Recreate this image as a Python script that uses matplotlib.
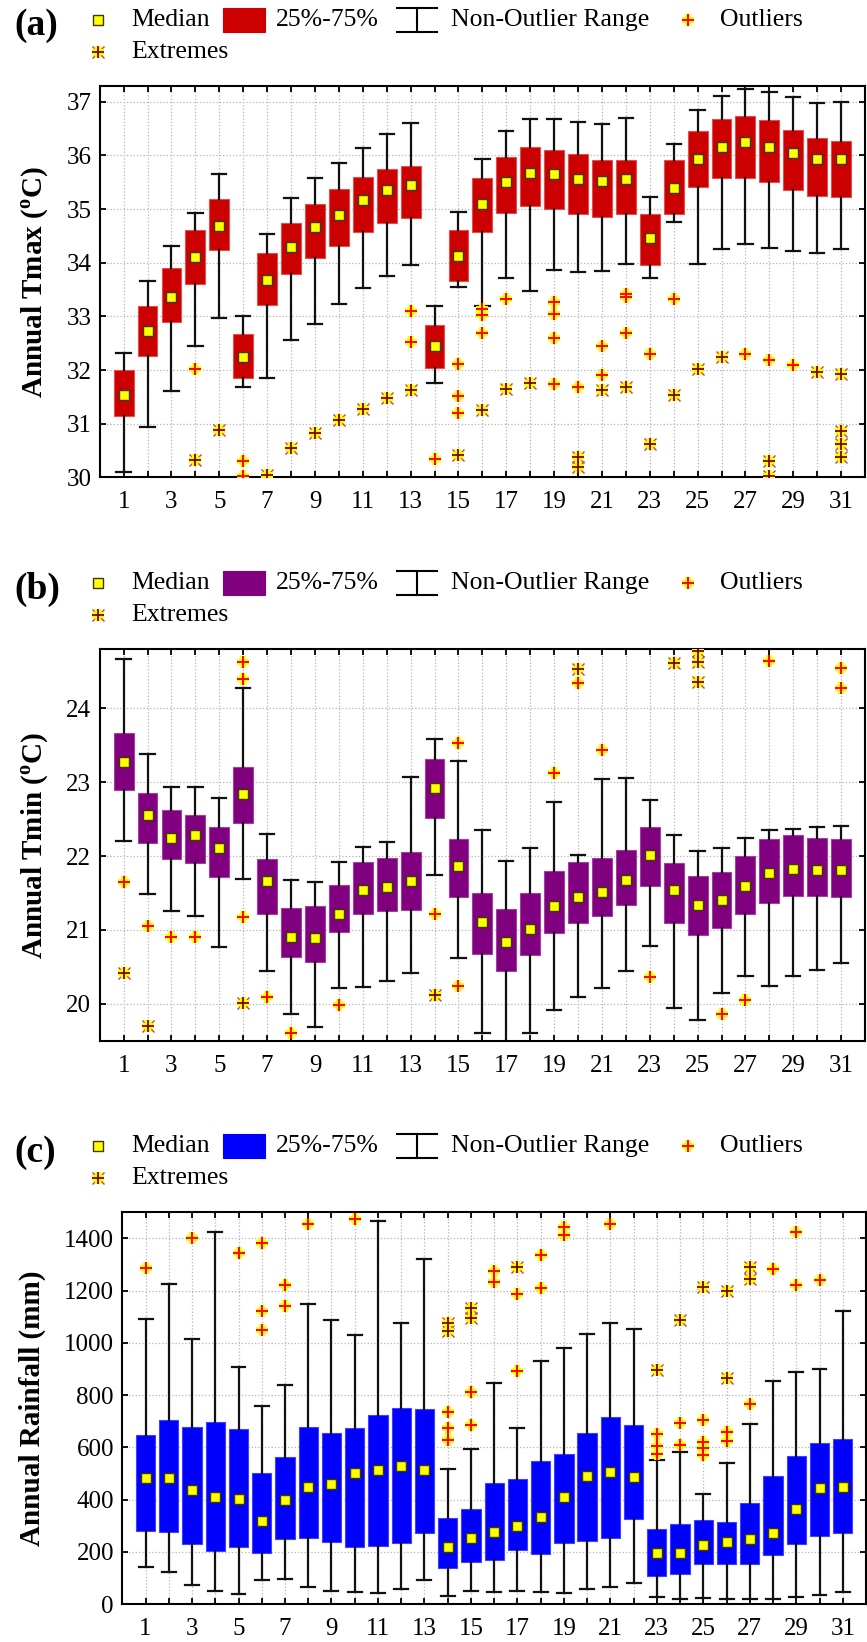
import matplotlib
matplotlib.use("Agg")
import matplotlib.pyplot as plt
from matplotlib.lines import Line2D
from matplotlib.patches import Rectangle
from matplotlib import font_manager

_names = sorted({f.name for f in font_manager.fontManager.ttflist})
_serif = [n for n in ['Liberation Serif', 'Times New Roman', 'Nimbus Roman', 'DejaVu Serif'] if n in _names]
plt.rcParams['font.family'] = 'serif'
plt.rcParams['font.serif'] = _serif + ['DejaVu Serif']
plt.rcParams['mathtext.fontset'] = 'custom'
plt.rcParams['mathtext.rm'] = _serif[0] if _serif else 'DejaVu Serif'
plt.rcParams['mathtext.bf'] = (_serif[0] if _serif else 'DejaVu Serif') + ':bold'

days = list(range(1, 32))
tick_labels = [str(d) if d % 2 == 1 else '' for d in days]

# ---------------- Panel (a) Tmax ----------------
a_lo = [30.09, 30.94, 31.61, 32.44, 32.97, 31.69, 31.85, 32.56, 32.86, 33.23, 33.53, 33.76, 33.96, 31.76, 33.55, 33.20,
        33.71, 33.47, 33.86, 33.83, 33.84, 33.98, 33.72, 34.76, 33.97, 34.26, 34.34, 34.28, 34.21, 34.18, 34.26]
a_q1 = [31.14, 32.26, 32.89, 33.60, 34.24, 31.86, 33.22, 33.79, 34.08, 34.31, 34.57, 34.74, 34.84, 32.04, 33.66, 34.58,
        34.92, 35.06, 35.00, 34.91, 34.86, 34.91, 33.96, 34.91, 35.41, 35.58, 35.58, 35.50, 35.36, 35.24, 35.22]
a_med = [31.53, 32.72, 33.37, 34.10, 34.69, 32.24, 33.68, 34.30, 34.66, 34.89, 35.17, 35.35, 35.45, 32.44, 34.13, 35.09,
         35.51, 35.68, 35.65, 35.57, 35.53, 35.57, 34.47, 35.40, 35.93, 36.16, 36.25, 36.16, 36.05, 35.93, 35.93]
a_q3 = [32.00, 33.20, 33.91, 34.61, 35.19, 32.68, 34.19, 34.74, 35.10, 35.37, 35.60, 35.74, 35.80, 32.84, 34.61, 35.58,
        35.98, 36.16, 36.11, 36.02, 35.92, 35.92, 34.91, 35.92, 36.46, 36.68, 36.74, 36.66, 36.48, 36.33, 36.27]
a_hi = [32.32, 33.65, 34.32, 34.92, 35.65, 33.00, 34.54, 35.20, 35.58, 35.85, 36.14, 36.40, 36.60, 33.19, 34.95, 35.94,
        36.46, 36.68, 36.67, 36.62, 36.58, 36.69, 35.23, 36.22, 36.85, 37.10, 37.23, 37.19, 37.09, 36.97, 36.99]
a_out_day = [4, 6, 6, 13, 13, 14, 15, 15, 15, 16, 16, 16, 17, 19, 19, 19, 19, 20, 21, 21, 22, 22, 22, 23, 24, 27, 28, 29]
a_out_val = [32.01, 30.30, 30.02, 33.10, 32.52, 30.35, 32.12, 31.51, 31.20, 33.13, 33.03, 32.69, 33.33, 33.27, 33.04,
             32.59, 31.74, 31.68, 32.45, 31.90, 33.42, 33.36, 32.69, 32.29, 33.33, 32.29, 32.18, 32.10]
a_ext_day = [4, 5, 7, 8, 9, 10, 11, 12, 13, 15, 16, 17, 18, 20, 20, 21, 22, 23, 24, 25, 26, 28, 28, 30, 31, 31, 31, 31]
a_ext_val = [30.33, 30.88, 30.04, 30.54, 30.83, 31.06, 31.28, 31.48, 31.62, 30.41, 31.25, 31.65, 31.76, 30.37, 30.19,
             31.62, 31.69, 30.63, 31.54, 32.02, 32.24, 30.30, 30.02, 31.96, 31.93, 30.86, 30.63, 30.37]

# ---------------- Panel (b) Tmin ----------------
b_lo = [22.20, 21.48, 21.26, 21.19, 20.77, 21.69, 20.45, 19.86, 19.68, 20.22, 20.23, 20.31, 20.42, 21.75, 20.62, 19.60,
        19.40, 19.60, 19.91, 20.09, 20.21, 20.45, 20.78, 19.94, 19.78, 20.15, 20.38, 20.24, 20.38, 20.46, 20.55]
b_q1 = [22.89, 22.18, 21.96, 21.91, 21.71, 22.45, 21.22, 20.63, 20.57, 20.97, 21.21, 21.25, 21.27, 22.51, 21.44, 20.67,
        20.45, 20.66, 20.96, 21.10, 21.19, 21.34, 21.60, 21.10, 20.93, 21.02, 21.22, 21.37, 21.46, 21.46, 21.44]
b_med = [23.27, 22.56, 22.25, 22.29, 22.11, 22.84, 21.66, 20.91, 20.89, 21.22, 21.54, 21.58, 21.66, 22.92, 21.86, 21.11,
         20.83, 21.01, 21.32, 21.44, 21.52, 21.68, 22.01, 21.54, 21.34, 21.40, 21.60, 21.77, 21.83, 21.81, 21.81]
b_q3 = [23.67, 22.86, 22.62, 22.55, 22.39, 23.20, 21.96, 21.30, 21.33, 21.61, 21.92, 21.97, 22.05, 23.31, 22.23, 21.50,
        21.29, 21.50, 21.80, 21.92, 21.97, 22.08, 22.40, 21.90, 21.73, 21.79, 22.00, 22.23, 22.28, 22.24, 22.23]
b_hi = [24.67, 23.38, 22.94, 22.93, 22.79, 24.27, 22.30, 21.67, 21.65, 21.92, 22.12, 22.19, 23.07, 23.59, 23.29, 22.35,
        21.93, 22.11, 22.73, 22.02, 23.04, 23.06, 22.76, 22.28, 22.07, 22.11, 22.25, 22.35, 22.36, 22.40, 22.41]
b_out_day = [1, 2, 3, 4, 6, 6, 6, 7, 8, 10, 14, 15, 15, 19, 20, 21, 23, 26, 27, 28, 31, 31]
b_out_val = [21.65, 21.05, 20.90, 20.90, 24.63, 24.40, 21.17, 20.09, 19.61, 19.99, 21.21, 23.53, 20.24, 23.13, 24.34,
             23.43, 20.36, 19.86, 20.05, 24.64, 24.55, 24.28]
b_ext_day = [1, 2, 6, 14, 20, 24, 25, 25, 25]
b_ext_val = [20.41, 19.70, 20.01, 20.12, 24.53, 24.61, 24.78, 24.63, 24.36]

# ---------------- Panel (c) Rainfall ----------------
c_lo = [140, 124, 74, 50, 38, 92, 94, 66, 51, 45, 43, 59, 92, 31, 48, 47, 50, 45, 43, 56, 65, 79, 26, 20, 22, 19,
        20, 20, 26, 34, 46]
c_q1 = [279, 277, 231, 203, 218, 197, 250, 253, 236, 220, 221, 232, 271, 137, 162, 170, 205, 190, 235, 242, 254, 327,
        108, 114, 154, 153, 153, 188, 228, 260, 273]
c_med = [484, 484, 438, 410, 402, 318, 397, 449, 461, 502, 512, 530, 512, 220, 254, 277, 300, 334, 410, 490, 507, 485,
         197, 197, 225, 236, 248, 271, 362, 444, 449]
c_q3 = [647, 706, 679, 697, 670, 502, 563, 678, 653, 675, 722, 749, 745, 328, 362, 465, 477, 546, 574, 656, 715, 685,
        288, 306, 320, 314, 385, 489, 565, 616, 630]
c_hi = [1091, 1226, 1013, 1424, 909, 759, 838, 1149, 1087, 1030, 1468, 1077, 1322, 518, 595, 845, 673, 930, 981, 1035,
        1075, 1054, 550, 581, 422, 540, 688, 853, 888, 900, 1122]
c_out_day = [1, 3, 5, 6, 6, 6, 7, 7, 8, 10, 14, 14, 14, 15, 15, 16, 16, 17, 17, 18, 18, 19, 19, 21, 23, 23, 23, 24, 24,
             25, 25, 25, 25, 26, 26, 27, 28, 29, 29, 30]
c_out_val = [1285, 1400, 1343, 1383, 1123, 1048, 1220, 1141, 1457, 1475, 736, 675, 628, 813, 685, 1274, 1234, 1186, 893,
             1336, 1211, 1442, 1413, 1457, 651, 605, 574, 692, 609, 704, 622, 598, 569, 660, 624, 766, 1284, 1423,
             1221, 1240]
c_ext_day = [14, 14, 15, 15, 17, 23, 24, 25, 26, 26, 27, 27]
c_ext_val = [1077, 1046, 1132, 1096, 1289, 898, 1087, 1215, 1198, 864, 1289, 1244]

W, H = 867, 1642
fig = plt.figure(figsize=(W / 100, H / 100), dpi=100)


def fx(px):
    return px / W


def fy(py):
    return 1 - py / H


def draw_outliers(ax, xs, ys, trans=None, clip=True):
    kw = {} if trans is None else dict(transform=trans)
    ax.plot(xs, ys, ls='none', marker='+', ms=9, mew=4.2, color='#FFFF00', clip_on=clip, zorder=5, **kw)
    ax.plot(xs, ys, ls='none', marker='+', ms=8.5, mew=1.4, color='#FF0000', clip_on=clip, zorder=6, **kw)


def draw_extremes(ax, xs, ys, trans=None, clip=True):
    kw = {} if trans is None else dict(transform=trans)
    ax.plot(xs, ys, ls='none', marker='x', ms=9, mew=1.0, color='#C04040', clip_on=clip, zorder=5, **kw)
    ax.plot(xs, ys, ls='none', marker='+', ms=9, mew=4.5, color='#FFFF00', clip_on=clip, zorder=6, **kw)
    ax.plot(xs, ys, ls='none', marker='+', ms=8.5, mew=1.3, color='#800000', clip_on=clip, zorder=7, **kw)


def panel(rect_px, lo, q1, med, q3, hi, od, ov, ed, ev, color, ecolor, ylim, yticks, ylabel, ylab_x):
    left, top, right, bottom = rect_px
    ax = fig.add_axes([fx(left), fy(bottom), fx(right) - fx(left), (bottom - top) / H])
    stats = [dict(whislo=l, q1=a, med=m, q3=b, whishi=h) for l, a, m, b, h in zip(lo, q1, med, q3, hi)]
    ax.bxp(stats, positions=days, widths=0.83, capwidths=0.6, patch_artist=True, showfliers=False,
           boxprops=dict(facecolor=color, edgecolor=ecolor, linewidth=0.8),
           whiskerprops=dict(color='#111111', linewidth=1.6),
           capprops=dict(color='#111111', linewidth=1.6),
           medianprops=dict(visible=False), manage_ticks=False)
    ax.plot(days, med, ls='none', marker='s', ms=6.8, mfc='#FFFF00', mec='#3a3a00', mew=1.0, zorder=8)
    draw_outliers(ax, od, ov)
    draw_extremes(ax, ed, ev)
    ax.set_xlim(0, 32)
    ax.set_ylim(*ylim)
    ax.set_xticks(days)
    ax.set_xticklabels(tick_labels)
    ax.set_yticks(yticks)
    ax.grid(True, ls=':', color='#b5b5b5', lw=0.9)
    ax.set_axisbelow(True)
    ax.tick_params(direction='in', top=True, right=True, length=4, width=1.3, labelsize=18)
    ax.tick_params(axis='y', pad=6)
    ax.tick_params(axis='x', pad=10)
    for s in ax.spines.values():
        s.set_linewidth(1.5)
    ax.set_ylabel(ylabel, fontsize=21, fontweight='bold')
    ax.yaxis.set_label_coords((ylab_x - left) / (right - left), 0.5)
    return ax


def legend(top, color, label):
    r1 = top - 66
    r2 = top - 34
    fig.text(fx(14), fy(top - 60), label, fontsize=27, fontweight='bold', ha='left', va='center')
    fig.add_artist(Line2D([fx(98)], [fy(r1)], transform=fig.transFigure, ls='none', marker='s', ms=6.8,
                          mfc='#FFFF00', mec='#3a3a00', mew=1.0))
    fig.text(fx(131), fy(r1), 'Median', fontsize=18.5, ha='left', va='center')
    fig.add_artist(Rectangle((fx(223), fy(r1 + 12)), fx(265) - fx(223), 24 / H, transform=fig.transFigure,
                             facecolor=color, edgecolor=color, lw=0.8))
    fig.text(fx(276), fy(r1), '25%-75%', fontsize=18.5, ha='left', va='center')
    fig.add_artist(Line2D([fx(397), fx(437)], [fy(r1 - 12)] * 2, transform=fig.transFigure, color='k', lw=1.5))
    fig.add_artist(Line2D([fx(397), fx(437)], [fy(r1 + 12)] * 2, transform=fig.transFigure, color='k', lw=1.5))
    fig.add_artist(Line2D([fx(417), fx(417)], [fy(r1 - 12), fy(r1 + 12)], transform=fig.transFigure, color='k', lw=1.5))
    fig.text(fx(451), fy(r1), 'Non-Outlier Range', fontsize=18.5, ha='left', va='center')
    tf = fig.transFigure
    ax0 = fig.axes[-1]
    draw_outliers(ax0, [fx(688)], [fy(r1)], trans=tf, clip=False)
    fig.text(fx(720), fy(r1), 'Outliers', fontsize=18.5, ha='left', va='center')
    draw_extremes(ax0, [fx(98)], [fy(r2)], trans=tf, clip=False)
    fig.text(fx(131), fy(r2), 'Extremes', fontsize=18.5, ha='left', va='center')


panel((99.7, 85.7, 865, 477.3), a_lo, a_q1, a_med, a_q3, a_hi, a_out_day, a_out_val, a_ext_day, a_ext_val,
      '#CC0000', '#E05050', (30, 37.3), list(range(30, 38)), r'Annual Tmax (${}^{\mathbf{o}}$C)', 51)
legend(85.7, '#CC0000', '(a)')

panel((99.7, 649.3, 865, 1040.7), b_lo, b_q1, b_med, b_q3, b_hi, b_out_day, b_out_val, b_ext_day, b_ext_val,
      '#800080', '#A040A0', (19.5, 24.8), list(range(20, 25)), r'Annual Tmin (${}^{\mathbf{o}}$C)', 51)
legend(649.3, '#800080', '(b)')

panel((122.3, 1212.3, 866, 1604), c_lo, c_q1, c_med, c_q3, c_hi, c_out_day, c_out_val, c_ext_day, c_ext_val,
      '#0000FF', '#4040FF', (0, 1500), list(range(0, 1401, 200)), 'Annual Rainfall (mm)', 46)
legend(1212.3, '#0000FF', '(c)')

fig.savefig('out.png', dpi=100)
